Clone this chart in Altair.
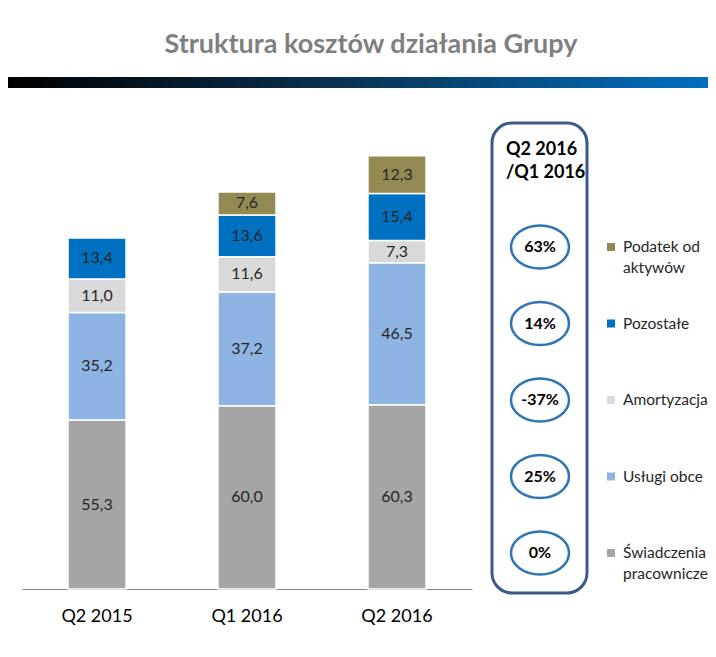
import altair as alt
import pandas as pd

# ---- data ----
quarters = ["Q2 2015", "Q1 2016", "Q2 2016"]
categories = ["Świadczenia pracownicze", "Usługi obce", "Amortyzacja", "Pozostałe", "Podatek od aktywów"]
swiadczenia = [55.3, 60.0, 60.3]
uslugi = [35.2, 37.2, 46.5]
amortyzacja = [11.0, 11.6, 7.3]
pozostale = [13.4, 13.6, 15.4]
podatek = [None, 7.6, 12.3]
changes = ["0%", "25%", "-37%", "14%", "63%"]  # Q2 2016 / Q1 2016, per category
legend_labels = ["Świadczenia\npracownicze", "Usługi obce", "Amortyzacja", "Pozostałe", "Podatek od\naktywów"]
colors = ["#a5a5a5", "#8eb4e3", "#d9d9d9", "#0070c0", "#938953"]
title_text = "Struktura kosztów działania Grupy"
panel_header = "Q2 2016\n/Q1 2016"

series = [swiadczenia, uslugi, amortyzacja, pozostale, podatek]
rows = []
for ci, (cat, vals) in enumerate(zip(categories, series)):
    for q, v in zip(quarters, vals):
        if v is not None:
            rows.append({"quarter": q, "cat": cat, "value": v, "order": ci})
df = pd.DataFrame(rows)
pdf = pd.DataFrame({"cat": categories, "change": changes, "label": legend_labels})

FONT = "Lato"
color_scale = alt.Scale(domain=categories, range=colors)

base = alt.Chart(df).transform_stack(
    stack="value", groupby=["quarter"], as_=["v0", "v1"],
    sort=[alt.SortField("order", order="ascending")]
).transform_calculate(
    mid="(datum.v0 + datum.v1) / 2",
    lbl="replace(format(datum.value, '.1f'), '.', ',')"
)

xscale = alt.Scale(range=[14, 464], paddingInner=0.613, paddingOuter=0.3067)
xaxis = alt.Axis(title=None, labelAngle=0, ticks=False, domainColor="#868686",
                 domainWidth=1, labelFontSize=18, labelColor="#000000",
                 labelPadding=18, labelFont=FONT, grid=False)
yscale = alt.Scale(domain=[0, 190.2], nice=False, zero=True)

bars = base.mark_bar(stroke="white", strokeWidth=1.5).encode(
    x=alt.X("quarter:N", sort=quarters, scale=xscale, axis=xaxis),
    y=alt.Y("v0:Q", scale=yscale, axis=None),
    y2="v1:Q",
    color=alt.Color("cat:N", scale=color_scale, legend=None),
)
labels = base.mark_text(fontSize=16, color="#262626", font=FONT).encode(
    x=alt.X("quarter:N", sort=quarters, scale=xscale, axis=xaxis),
    y=alt.Y("mid:Q", scale=yscale, axis=None),
    text="lbl:N",
)

ypanel = alt.Y("cat:N", scale=alt.Scale(type="point", domain=categories[::-1],
                                       range=[239, 545], padding=0), axis=None)

ellipse_path = "M-1,0A1,0.74,0,1,1,1,0A1,0.74,0,1,1,-1,0Z"
ellipses = alt.Chart(pdf).mark_point(shape=ellipse_path, size=3364, filled=False,
                                     color="#2e75b6", strokeWidth=2.5, opacity=1).encode(
    x=alt.value(532), y=ypanel)
ell_text = alt.Chart(pdf).mark_text(font=FONT, fontWeight="bold", fontSize=16,
                                    color="#000000").encode(
    x=alt.value(532), y=ypanel, text="change:N")
leg_sq = alt.Chart(pdf).mark_square(size=64, opacity=1).encode(
    x=alt.value(603), y=ypanel,
    color=alt.Color("cat:N", scale=color_scale, legend=None))
leg_txt = alt.Chart(pdf).mark_text(align="left", baseline="middle", lineBreak="\n",
                                   lineHeight=21, fontSize=15.5, font=FONT,
                                   color="#262626").encode(
    x=alt.value(615), y=ypanel, text="label:N")

one = pd.DataFrame({"t": [title_text], "h": [panel_header]})
panel = alt.Chart(one).mark_rect(cornerRadius=20, fill="transparent", stroke="#3b5a8a",
                                 strokeWidth=3).encode(
    x=alt.value(484), x2=alt.value(579), y=alt.value(115), y2=alt.value(585))
header = alt.Chart(one).mark_text(align="left", baseline="middle", fontWeight="bold",
                                  fontSize=18, font=FONT, lineBreak="\n", lineHeight=23,
                                  color="#000000").encode(
    x=alt.value(498), y=alt.value(142), text="h:N")
title = alt.Chart(one).mark_text(align="center", baseline="middle", fontWeight="bold",
                                 fontSize=27, font=FONT, color="#7f7f7f").encode(
    x=alt.value(363), y=alt.value(37), text="t:N")
gradbar = alt.Chart(one).mark_rect(
    color=alt.Gradient(gradient="linear", x1=0, x2=1, y1=0, y2=0,
                       stops=[alt.GradientStop(color="#000000", offset=0),
                              alt.GradientStop(color="#0a3557", offset=0.5),
                              alt.GradientStop(color="#0070c0", offset=1)])
).encode(x=alt.value(0), x2=alt.value(700), y=alt.value(69), y2=alt.value(80))

chart = alt.layer(
    gradbar, title, bars, labels, panel, header, ellipses, ell_text, leg_sq, leg_txt
).resolve_scale(y="independent").properties(
    width=700, height=581,
    padding={"left": 0, "right": 0, "top": 0, "bottom": 60},
    autosize=alt.AutoSizeParams(type="none"),
).configure_view(stroke=None)

chart.save("out.html", embed_options={"renderer": "svg", "actions": False})
